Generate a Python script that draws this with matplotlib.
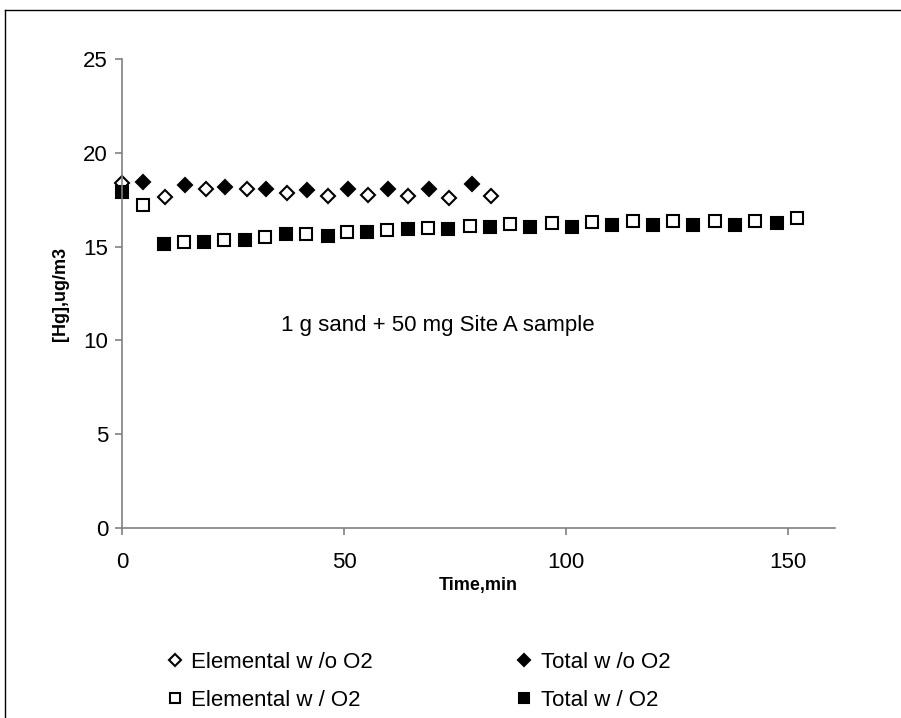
import numpy as np
import matplotlib.pyplot as plt
from matplotlib.lines import Line2D

plt.rcParams['font.family'] = ['Liberation Sans', 'DejaVu Sans']

# Elemental w/o O2 (open diamond)
elem_noo2_t = [0, 9.7, 19.0, 28.2, 37.2, 46.4, 55.4, 64.4, 73.6, 83.1]
elem_noo2_hg = [18.4, 17.65, 18.07, 18.07, 17.87, 17.7, 17.75, 17.7, 17.6, 17.7]

# Total w/o O2 (filled diamond)
tot_noo2_t = [4.7, 14.2, 23.2, 32.4, 41.6, 50.9, 59.9, 69.2, 78.8]
tot_noo2_hg = [18.45, 18.3, 18.2, 18.05, 18.0, 18.05, 18.05, 18.05, 18.35]

# Elemental w/ O2 (open square)
elem_o2_t = [4.7, 14.0, 23.0, 32.2, 41.4, 50.7, 59.7, 68.9, 78.4, 87.4, 96.8,
             105.9, 115.1, 124.1, 133.6, 142.6, 152.0]
elem_o2_hg = [17.2, 15.23, 15.35, 15.53, 15.67, 15.8, 15.9, 16.0, 16.1, 16.19, 16.27,
              16.31, 16.38, 16.38, 16.38, 16.38, 16.51]

# Total w/ O2 (filled square)
tot_o2_t = [0, 9.5, 18.5, 27.7, 36.9, 46.4, 55.2, 64.4, 73.4, 82.9, 91.9,
            101.4, 110.4, 119.6, 128.6, 138.1, 147.5]
tot_o2_hg = [17.93, 15.12, 15.23, 15.35, 15.67, 15.56, 15.8, 15.95, 15.95, 16.05, 16.07,
             16.07, 16.15, 16.15, 16.15, 16.15, 16.27]

fig = plt.figure(figsize=(9.01, 7.18), dpi=100)
ax = fig.add_axes([0.1354, 0.2646, 0.7913, 0.6532])

h1, = ax.plot(elem_noo2_t, elem_noo2_hg, 'D', ms=6.8, mfc='white', mec='black', mew=1.5,
              label='Elemental w /o O2', clip_on=False)
h2, = ax.plot(tot_noo2_t, tot_noo2_hg, 'D', ms=6.8, mfc='black', mec='black', mew=1.5,
              label='Total w /o O2', clip_on=False)
h3, = ax.plot(elem_o2_t, elem_o2_hg, 's', ms=8.3, mfc='white', mec='black', mew=1.5,
              label='Elemental w / O2', clip_on=False)
h4, = ax.plot(tot_o2_t, tot_o2_hg, 's', ms=8.3, mfc='black', mec='black', mew=1.5,
              label='Total w / O2', clip_on=False)

ax.set_xlim(0, 160.5)
ax.set_ylim(0, 25)
ax.set_xticks([0, 50, 100, 150])
ax.set_yticks([0, 5, 10, 15, 20, 25])
for s in ['top', 'right']:
    ax.spines[s].set_visible(False)
for s in ['left', 'bottom']:
    ax.spines[s].set_color('#808080')
    ax.spines[s].set_linewidth(1.2)
ax.tick_params(axis='both', direction='out', length=5, width=1.2, color='#808080',
               labelsize=16)
ax.tick_params(axis='x', pad=12)
ax.tick_params(axis='y', pad=5)

ax.set_xlabel('Time,min', fontsize=13, fontweight='bold', labelpad=3)
ax.set_ylabel('[Hg],ug/m3', fontsize=13, fontweight='bold', labelpad=10)

ax.text(71, 10.8, '1 g sand + 50 mg Site A sample', fontsize=16, ha='center', va='center')

ax.legend([h1, h3, h2, h4], [h.get_label() for h in [h1, h3, h2, h4]],
          loc='upper left', bbox_to_anchor=(0.027, -0.222), ncol=2, frameon=False,
          fontsize=16, handletextpad=0.15, columnspacing=6.2, labelspacing=0.75,
          markerscale=0.85, handlelength=1.2)

# outer frame (top and left edges only)
fig.add_artist(Line2D([5 / 901, 1.0], [1 - 10 / 718, 1 - 10 / 718],
                      transform=fig.transFigure, color='black', lw=1))
fig.add_artist(Line2D([5 / 901, 5 / 901], [0.0, 1 - 10 / 718],
                      transform=fig.transFigure, color='black', lw=1))

fig.savefig('out.png', dpi=100)
